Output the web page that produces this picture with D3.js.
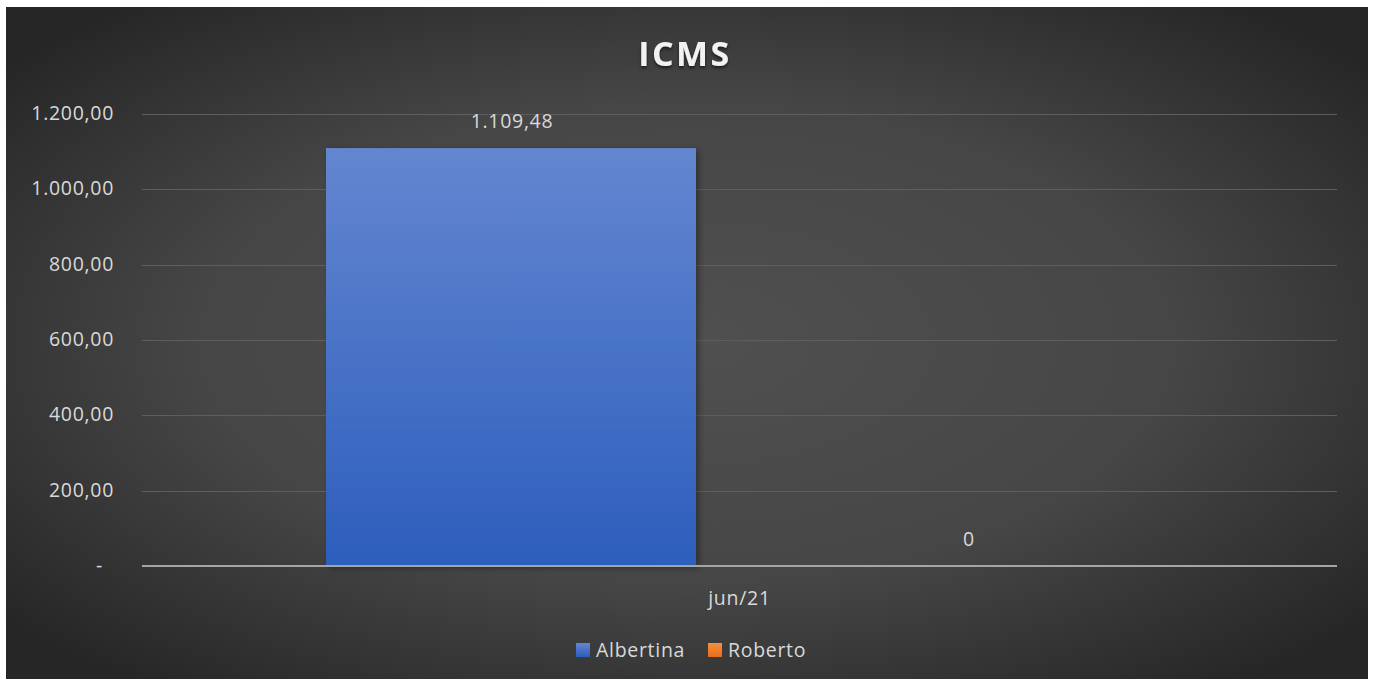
<!DOCTYPE html>
<html><head><meta charset="utf-8">
<script src="https://cdn.jsdelivr.net/npm/d3@7"></script>
<style>body{margin:0;background:#fff;} svg{display:block;}</style>
</head><body>
<svg id="c" width="1373" height="679"></svg>
<script>
const categories = ["jun/21"];
const seriesNames = ["Albertina", "Roberto"];
const albertina = [1109.48];
const roberto = [0];
const yTicks = [0, 200, 400, 600, 800, 1000, 1200];
const valueLabels = ["1.109,48", "0"];

const svg = d3.select("#c");
const frame = {x: 6, y: 7, w: 1362, h: 672};
const m = {l: 142, r: 1337, t: 114, b: 566};
const font = "'Open Sans', 'Segoe UI', sans-serif";
const FS = "19.5px";
const LS = "0.7px";

const defs = svg.append("defs");
const rg = defs.append("radialGradient").attr("id", "bg")
  .attr("cx", "50%").attr("cy", "50%").attr("r", "65%");
rg.append("stop").attr("offset", "0%").attr("stop-color", "#505050");
rg.append("stop").attr("offset", "55%").attr("stop-color", "#464646");
rg.append("stop").attr("offset", "100%").attr("stop-color", "#262626");
const bgA = defs.append("linearGradient").attr("id", "barA").attr("x1", 0).attr("y1", 0).attr("x2", 0).attr("y2", 1);
bgA.append("stop").attr("offset", "0%").attr("stop-color", "#6486d0");
bgA.append("stop").attr("offset", "100%").attr("stop-color", "#2c5ebc");
const bgB = defs.append("linearGradient").attr("id", "barB").attr("x1", 0).attr("y1", 0).attr("x2", 0).attr("y2", 1);
bgB.append("stop").attr("offset", "0%").attr("stop-color", "#f4903f");
bgB.append("stop").attr("offset", "100%").attr("stop-color", "#e86c1a");
const sh = defs.append("filter").attr("id", "ts").attr("x", "-20%").attr("y", "-20%").attr("width", "140%").attr("height", "160%");
sh.append("feDropShadow").attr("dx", 0).attr("dy", 2).attr("stdDeviation", 1.5).attr("flood-color", "#000").attr("flood-opacity", 0.6);
const bs = defs.append("filter").attr("id", "bs").attr("x", "-10%").attr("y", "-10%").attr("width", "130%").attr("height", "130%");
bs.append("feDropShadow").attr("dx", 3).attr("dy", 2).attr("stdDeviation", 3).attr("flood-color", "#000").attr("flood-opacity", 0.35);

svg.append("rect").attr("x", frame.x).attr("y", frame.y).attr("width", frame.w).attr("height", frame.h).attr("fill", "url(#bg)");

const y = d3.scaleLinear().domain([0, 1200]).range([m.b, m.t]);
const x0 = d3.scaleBand().domain(categories).range([m.l, m.r]).paddingInner(0).paddingOuter(0);
const bandPad = 184 / 1195;
const x1 = d3.scaleBand().domain(seriesNames)
  .range([x0.bandwidth() * bandPad, x0.bandwidth() * (1 - bandPad)]).paddingInner(87 / 457);

const fmt = v => v === 0 ? "-" : d3.format(",.2f")(v).replace(/,/g, "#").replace(/\./g, ",").replace(/#/g, ".");
svg.append("g").selectAll("line").data(yTicks.filter(d => d > 0)).join("line")
  .attr("x1", m.l).attr("x2", m.r).attr("y1", d => Math.round(y(d)) + 0.5).attr("y2", d => Math.round(y(d)) + 0.5)
  .attr("stroke", "#5e5e5e").attr("stroke-width", 1);

const yAxis = d3.axisLeft(y).tickValues(yTicks).tickFormat(fmt).tickSize(0).tickPadding(0);
const gy = svg.append("g").attr("transform", `translate(${114},0)`).call(yAxis);
gy.select(".domain").remove();
gy.selectAll("text").attr("fill", "#d9d9d9").attr("dy", "0.28em")
  .attr("dx", d => d === 0 ? -11 : 0)
  .style("font-family", font).style("font-size", FS).style("letter-spacing", LS);

const data = categories.map((c, i) => ({cat: c, vals: [{s: "Albertina", v: albertina[i], f: "url(#barA)", lbl: valueLabels[0]}, {s: "Roberto", v: roberto[i], f: "url(#barB)", lbl: valueLabels[1]}]}));
const g = svg.append("g").selectAll("g").data(data).join("g").attr("transform", d => `translate(${x0(d.cat)},0)`);
g.selectAll("rect").data(d => d.vals).join("rect")
  .attr("x", d => x1(d.s)).attr("width", x1.bandwidth())
  .attr("y", d => y(d.v)).attr("height", d => y(0) - y(d.v))
  .attr("fill", d => d.f).attr("filter", "url(#bs)");
g.selectAll("text").data(d => d.vals).join("text")
  .attr("x", d => x1(d.s) + x1.bandwidth() / 2 + 1).attr("y", d => y(d.v) - 20)
  .attr("text-anchor", "middle").attr("fill", "#d9d9d9")
  .style("font-family", font).style("font-size", FS).style("letter-spacing", LS).text(d => d.lbl);

svg.append("line").attr("x1", m.l).attr("x2", m.r).attr("y1", y(0)).attr("y2", y(0))
  .attr("stroke", "#a5a5a5").attr("stroke-width", 2);
const xAxis = d3.axisBottom(x0).tickSize(0).tickPadding(0);
const gx = svg.append("g").attr("transform", `translate(0,${y(0)})`).call(xAxis);
gx.select(".domain").remove();
gx.selectAll("text").attr("fill", "#d9d9d9").attr("y", 39).attr("dy", 0).attr("dx", 0).style("font-family", font).style("font-size", FS).style("letter-spacing", LS);

svg.append("text").attr("x", 685).attr("y", 66).attr("text-anchor", "middle")
  .attr("fill", "#f2f2f2").attr("filter", "url(#ts)")
  .style("font-family", font).style("font-weight", "bold").style("font-size", "34px").style("letter-spacing", "2.5px").text("ICMS");

const legX = [576, 708];
const lg = svg.append("g").selectAll("g").data(seriesNames).join("g")
  .attr("transform", (d, i) => `translate(${legX[i]},643)`);
lg.append("rect").attr("width", 14).attr("height", 14).attr("fill", (d, i) => i === 0 ? "url(#barA)" : "url(#barB)");
lg.append("text").attr("x", 20).attr("y", 13.5).attr("fill", "#d9d9d9")
  .style("font-family", font).style("font-size", FS).style("letter-spacing", LS).text(d => d);
</script>
</body></html>
